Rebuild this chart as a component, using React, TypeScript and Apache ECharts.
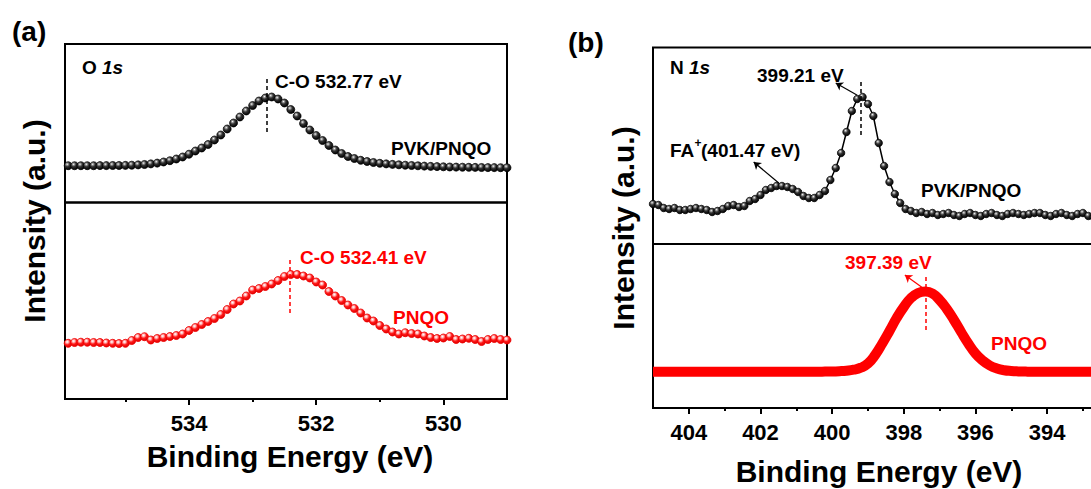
import React, { useEffect, useRef } from "react";
import * as echarts from "echarts";

// ---------- data (a) O 1s ----------
const A_ENERGY = [
  535.9, 535.8, 535.7, 535.6, 535.5, 535.4, 535.3, 535.2, 535.1, 535.0,
  534.9, 534.8, 534.7, 534.6, 534.5, 534.4, 534.3, 534.2, 534.1, 534.0,
  533.9, 533.8, 533.7, 533.6, 533.5, 533.4, 533.3, 533.2, 533.1, 533.0,
  532.9, 532.8, 532.7, 532.6, 532.5, 532.4, 532.3, 532.2, 532.1, 532.0,
  531.9, 531.8, 531.7, 531.6, 531.5, 531.4, 531.3, 531.2, 531.1, 531.0,
  530.9, 530.8, 530.7, 530.6, 530.5, 530.4, 530.3, 530.2, 530.1, 530.0,
  529.9, 529.8, 529.7, 529.6, 529.5, 529.4, 529.3, 529.2, 529.1, 529.0,
];
const A_PVK_PNQO = [
  36.8, 36.8, 36.8, 36.8, 36.8, 36.9, 36.9, 37.0, 37.0, 37.1,
  37.3, 37.6, 38.0, 38.6, 39.4, 40.5, 41.8, 43.5, 45.5, 48.3,
  51.5, 54.5, 58.0, 62.5, 67.5, 73.5, 79.5, 85.5, 91.5, 97.0,
  101.5, 104.5, 105.5, 103.5, 99.5, 93.0, 86.5, 79.0, 72.5, 67.0,
  62.0, 57.0, 52.5, 49.0, 46.0, 44.0, 42.2, 41.0, 40.0, 39.2,
  38.6, 38.1, 37.7, 37.3, 37.0, 36.7, 36.4, 36.1, 35.9, 35.7,
  35.5, 35.4, 35.3, 35.2, 35.1, 35.0, 34.9, 34.9, 34.8, 34.8,
];
const A_PNQO = [
  55.7, 56.5, 56.8, 56.8, 56.5, 56.5, 56.0, 55.7, 55.5, 55.7,
  58.5, 61.5, 62.3, 59.0, 60.5, 61.5, 62.5, 63.5, 65.0, 68.5,
  71.5, 74.5, 77.5, 80.5, 84.5, 89.5, 95.0, 98.0, 103.0, 109.0,
  110.5, 112.5, 115.0, 118.5, 122.5, 124.5, 124.5, 123.0, 121.0, 117.0,
  114.0, 107.5, 103.0, 98.5, 94.0, 90.5, 86.0, 81.0, 78.0, 73.5,
  70.0, 67.0, 65.0, 66.3, 65.5, 65.0, 63.0, 61.5, 60.5, 61.0,
  62.5, 59.5, 60.0, 60.7, 59.5, 57.5, 59.5, 60.5, 59.5, 59.0,
];

// ---------- data (b) N 1s ----------
const B_ENERGY = [
  405.0, 404.85, 404.7, 404.55, 404.4, 404.25, 404.1, 403.95, 403.8, 403.65,
  403.5, 403.35, 403.2, 403.05, 402.9, 402.75, 402.6, 402.45, 402.3, 402.15,
  402.0, 401.85, 401.7, 401.55, 401.4, 401.25, 401.1, 400.95, 400.8, 400.65,
  400.5, 400.35, 400.2, 400.05, 399.9, 399.75, 399.6, 399.45, 399.3, 399.15,
  399.0, 398.85, 398.7, 398.55, 398.4, 398.25, 398.1, 397.95, 397.8, 397.65,
  397.5, 397.35, 397.2, 397.05, 396.9, 396.75, 396.6, 396.45, 396.3, 396.15,
  396.0, 395.85, 395.7, 395.55, 395.4, 395.25, 395.1, 394.95, 394.8, 394.65,
  394.5, 394.35, 394.2, 394.05, 393.9, 393.75, 393.6, 393.45, 393.3, 393.15,
  393.0, 392.85, 392.7, 392.55, 392.4, 392.25,
];
const B_PVK_PNQO = [
  40, 39, 36, 35, 36, 34, 34, 35, 36, 35,
  34, 32, 33, 35, 38, 39, 37, 38, 43, 45,
  49, 54, 56, 58, 58, 57, 55, 52, 48, 46,
  46, 49, 53, 64, 76, 91, 112, 133, 145, 147,
  140, 128, 101, 78, 62, 50, 41, 35, 33, 31,
  32, 30, 31, 29, 30, 31, 29, 28, 30, 31,
  29, 28, 30, 31, 29, 28, 30, 31, 30, 29,
  30, 31, 31, 29, 28, 30, 31, 29, 28, 30,
  31, 28, 27, 28, 29, 28,
];
const B_RED_ENERGY = [
  405.0, 404.8, 404.6, 404.4, 404.2, 404.0, 403.8, 403.6, 403.4, 403.2,
  403.0, 402.8, 402.6, 402.4, 402.2, 402.0, 401.8, 401.6, 401.4, 401.2,
  401.0, 400.8, 400.6, 400.4, 400.2, 400.0, 399.8, 399.6, 399.4, 399.2,
  399.0, 398.8, 398.6, 398.4, 398.2, 398.0, 397.8, 397.6, 397.4, 397.2,
  397.0, 396.8, 396.6, 396.4, 396.2, 396.0, 395.8, 395.6, 395.4, 395.2,
  395.0, 394.8, 394.6, 394.4, 394.2, 394.0, 393.8, 393.6, 393.4, 393.2,
  393.0, 392.8, 392.6, 392.4, 392.2, 392.0, 391.8, 391.6, 391.4, 391.2,
  391.0,
];
const B_PNQO = [
  36.3, 36.3, 36.3, 36.3, 36.3, 36.3, 36.3, 36.3, 36.3, 36.3,
  36.3, 36.3, 36.3, 36.3, 36.3, 36.3, 36.3, 36.3, 36.3, 36.3,
  36.3, 36.3, 36.3, 36.3, 36.4, 36.5, 36.8, 37.3, 38.3, 40.3,
  44.5, 53.0, 64.5, 77.0, 90.0, 101.0, 110.0, 115.0, 116.5, 114.5,
  108.0, 99.0, 88.0, 76.0, 64.5, 54.5, 47.5, 42.5, 39.5, 37.8,
  37.0, 36.6, 36.4, 36.3, 36.3, 36.3, 36.3, 36.3, 36.3, 36.3,
  36.3, 36.3, 36.3, 36.3, 36.3, 36.3, 36.3, 36.3, 36.3, 36.3,
  36.3,
];

// ---------- axes ----------
const A_RANGE = [529.0, 535.95];
const A_MAJOR = [530, 532, 534];
const A_MINOR = [531, 533, 535];
const B_RANGE = [391, 405];
const B_MAJOR = [394, 396, 398, 400, 402, 404];
const B_MINOR = [393, 395, 397, 399, 401, 403];
const Y_MAX = [158.5, 196.5, 196.5, 164];

// ---------- peak markers [energy, y from, y to] ----------
const A_TOP_PEAK = [532.77, 70.5, 124.5];
const A_BOT_PEAK = [532.41, 86, 142];
const B_TOP_PEAK = [399.21, 109, 164];
const B_BOT_PEAK = [397.39, 78, 133];
// arrows [x0, y0, x1(head), y1(head)]
const B_TOP_ARROW = [399.31, 149, 399.9, 161];
const B_FA_ARROW = [401.49, 61, 402.19, 82];
const B_BOT_ARROW = [397.39, 118, 397.97, 133];

const FONT = '"Liberation Sans", Arial, Helvetica, sans-serif';
const RED = "#ff0000";

function sphere(dark: boolean) {
  return new echarts.graphic.RadialGradient(0.38, 0.32, 0.68, dark
    ? [
        { offset: 0, color: "#ffffff" },
        { offset: 0.15, color: "#a8a8a8" },
        { offset: 0.45, color: "#333333" },
        { offset: 1, color: "#000000" },
      ]
    : [
        { offset: 0, color: "#ffffff" },
        { offset: 0.22, color: "#ffc0c0" },
        { offset: 0.55, color: "#ff1a1a" },
        { offset: 1, color: "#e00000" },
      ]);
}

function dashed(p: number[], color: string) {
  return [
    { coord: [p[0], p[1]], symbol: "none" },
    { coord: [p[0], p[2]], symbol: "none", lineStyle: { type: [4, 3], color, width: 1.5 } },
  ];
}
function arrow(a: number[], color: string) {
  return [
    { coord: [a[0], a[1]], symbol: "none" },
    { coord: [a[2], a[3]], symbol: "arrow", symbolSize: 7, lineStyle: { type: "solid", color, width: 1.2 } },
  ];
}

function text(x: number, y: number, t: string, size: number, color = "#000", extra: any = {}) {
  return {
    type: "text",
    x,
    y,
    silent: true,
    ...extra,
    style: {
      text: t,
      fill: color,
      font: `bold ${size}px ${FONT}`,
      textAlign: extra.align || "left",
      align: extra.align || "left",
      textVerticalAlign: "middle",
      verticalAlign: "middle",
      ...(extra.style || {}),
    },
  };
}

function richLabel(x: number, y: number, a: string, b: string) {
  return {
    type: "text",
    x,
    y,
    silent: true,
    style: {
      text: `{n|${a}}{i|${b}}`,
      align: "left",
      verticalAlign: "middle",
      textVerticalAlign: "middle",
      rich: {
        n: { fontSize: 19, fontWeight: "bold", fontFamily: FONT, fill: "#000", color: "#000" },
        i: { fontSize: 19, fontWeight: "bold", fontStyle: "italic", fontFamily: FONT, fill: "#000", color: "#000" },
      },
    },
  };
}

function xAxisPair(gridIndex: number, range: number[], major: number[], minor: number[]) {
  return [
    {
      type: "value",
      gridIndex,
      min: range[0],
      max: range[1],
      inverse: true,
      position: "bottom",
      axisLine: { show: true, onZero: false, lineStyle: { color: "#000", width: 2 } },
      axisTick: { show: true, inside: false, length: 6, customValues: major, lineStyle: { color: "#000", width: 2 } },
      axisLabel: {
        show: true,
        customValues: major,
        margin: 13,
        fontSize: 22,
        fontWeight: "bold",
        fontFamily: FONT,
        color: "#000",
      },
      splitLine: { show: false },
    },
    {
      type: "value",
      gridIndex,
      min: range[0],
      max: range[1],
      inverse: true,
      position: "bottom",
      axisLine: { show: false, onZero: false },
      axisTick: { show: true, inside: false, length: 3, customValues: minor, lineStyle: { color: "#000", width: 2 } },
      axisLabel: { show: false },
      splitLine: { show: false },
    },
  ];
}

function hiddenX(gridIndex: number, range: number[]) {
  return {
    type: "value",
    gridIndex,
    min: range[0],
    max: range[1],
    inverse: true,
    show: false,
    splitLine: { show: false },
  };
}

export default function App() {
  const ref = useRef<HTMLDivElement>(null);
  useEffect(() => {
    if (!ref.current) return;
    const chart = echarts.init(ref.current, null, { renderer: "svg" });
    const zip = (xs: number[], ys: number[]) => xs.map((x, i) => [x, ys[i]]);

    const grids = [
      { left: 65, top: 44, width: 442, height: Y_MAX[0] },
      { left: 65, top: 202.5, width: 442, height: Y_MAX[1] },
      { left: 653, top: 47.5, width: 501.6, height: Y_MAX[3] + 32.5 },
      { left: 653, top: 244, width: 501.6, height: Y_MAX[3] },
    ].map((g) => ({ ...g, show: true, borderColor: "#000", borderWidth: 2, backgroundColor: "transparent", containLabel: false }));

    const xAxes: any[] = [
      hiddenX(0, A_RANGE), // 0
      ...xAxisPair(1, A_RANGE, A_MAJOR, A_MINOR), // 1, 2
      hiddenX(2, B_RANGE), // 3
      ...xAxisPair(3, B_RANGE, B_MAJOR, B_MINOR), // 4, 5
    ];
    const yMaxes = [Y_MAX[0], Y_MAX[1], Y_MAX[3] + 32.5, Y_MAX[3]];
    const yAxes = yMaxes.map((m, i) => ({
      type: "value",
      gridIndex: i,
      min: 0,
      max: m,
      show: false,
      splitLine: { show: false },
    }));

    const option: any = {
      animation: false,
      backgroundColor: "#ffffff",
      grid: grids,
      xAxis: xAxes,
      yAxis: yAxes,
      series: [
        {
          type: "line",
          name: "PVK/PNQO (O 1s)",
          xAxisIndex: 0,
          yAxisIndex: 0,
          data: zip(A_ENERGY, A_PVK_PNQO),
          symbol: "circle",
          symbolSize: 8,
          showSymbol: true,
          lineStyle: { color: "#000", width: 1 },
          itemStyle: { color: sphere(true), borderColor: "#000", borderWidth: 0.7 },
          markLine: {
            silent: true,
            symbol: "none",
            label: { show: false },
            lineStyle: { type: [4, 3], color: "#000", width: 1.5 },
            data: [dashed(A_TOP_PEAK, "#000")],
          },
        },
        {
          type: "line",
          name: "PNQO (O 1s)",
          xAxisIndex: 1,
          yAxisIndex: 1,
          data: zip(A_ENERGY, A_PNQO),
          symbol: "circle",
          symbolSize: 8,
          showSymbol: true,
          lineStyle: { color: RED, width: 1 },
          itemStyle: { color: sphere(false), borderColor: "#ee0000", borderWidth: 0.8 },
          markLine: {
            silent: true,
            symbol: "none",
            label: { show: false },
            lineStyle: { type: [4, 3], color: RED, width: 1.5 },
            data: [dashed(A_BOT_PEAK, RED)],
          },
        },
        {
          type: "line",
          name: "PVK/PNQO (N 1s)",
          xAxisIndex: 3,
          yAxisIndex: 2,
          data: zip(B_ENERGY, B_PVK_PNQO),
          symbol: "circle",
          symbolSize: 7.5,
          showSymbol: true,
          lineStyle: { color: "#000", width: 1.5 },
          itemStyle: { color: sphere(true), borderColor: "#000", borderWidth: 0.7 },
          markLine: {
            silent: true,
            symbol: "none",
            label: { show: false },
            lineStyle: { type: [4, 3], color: "#000", width: 1.5 },
            data: [dashed(B_TOP_PEAK, "#000"), arrow(B_TOP_ARROW, "#000"), arrow(B_FA_ARROW, "#000")],
          },
        },
        {
          type: "line",
          name: "PNQO (N 1s)",
          xAxisIndex: 4,
          yAxisIndex: 3,
          data: zip(B_RED_ENERGY, B_PNQO),
          smooth: true,
          symbol: "none",
          showSymbol: false,
          lineStyle: { color: RED, width: 10 },
          markLine: {
            silent: true,
            symbol: "none",
            label: { show: false },
            lineStyle: { type: [4, 3], color: RED, width: 1.5 },
            data: [dashed(B_BOT_PEAK, RED), arrow(B_BOT_ARROW, RED)],
          },
        },
      ],
      graphic: [
        text(12, 31, "(a)", 28),
        text(568, 42.5, "(b)", 28),
        richLabel(82, 67.5, "O ", "1s"),
        richLabel(670, 67.5, "N ", "1s"),
        text(275, 81, "C-O 532.77 eV", 19),
        text(391, 148.5, "PVK/PNQO", 19),
        text(300, 257.5, "C-O 532.41 eV", 19, RED),
        text(393, 317.5, "PNQO", 19, RED),
        text(757, 75, "399.21 eV", 19),
        text(670, 150, "FA", 19),
        text(694.5, 143, "+", 12),
        text(701, 150, "(401.47 eV)", 19),
        text(921, 190, "PVK/PNQO", 19),
        text(845, 262.5, "397.39 eV", 19, RED),
        text(991, 343.5, "PNQO", 19, RED),
        text(290, 456, "Binding Energy (eV)", 30, "#000", { align: "center" }),
        text(879, 471, "Binding Energy (eV)", 30, "#000", { align: "center" }),
        text(34, 221, "Intensity (a.u.)", 30, "#000", { align: "center", rotation: Math.PI / 2 }),
        text(623, 228, "Intensity (a.u.)", 30, "#000", { align: "center", rotation: Math.PI / 2 }),
      ],
    };
    chart.setOption(option);
    return () => chart.dispose();
  }, []);
  return (
    <div
      ref={ref}
      style={{ position: "fixed", left: 0, top: 0, width: 1200, height: 489, background: "#fff" }}
    />
  );
}
